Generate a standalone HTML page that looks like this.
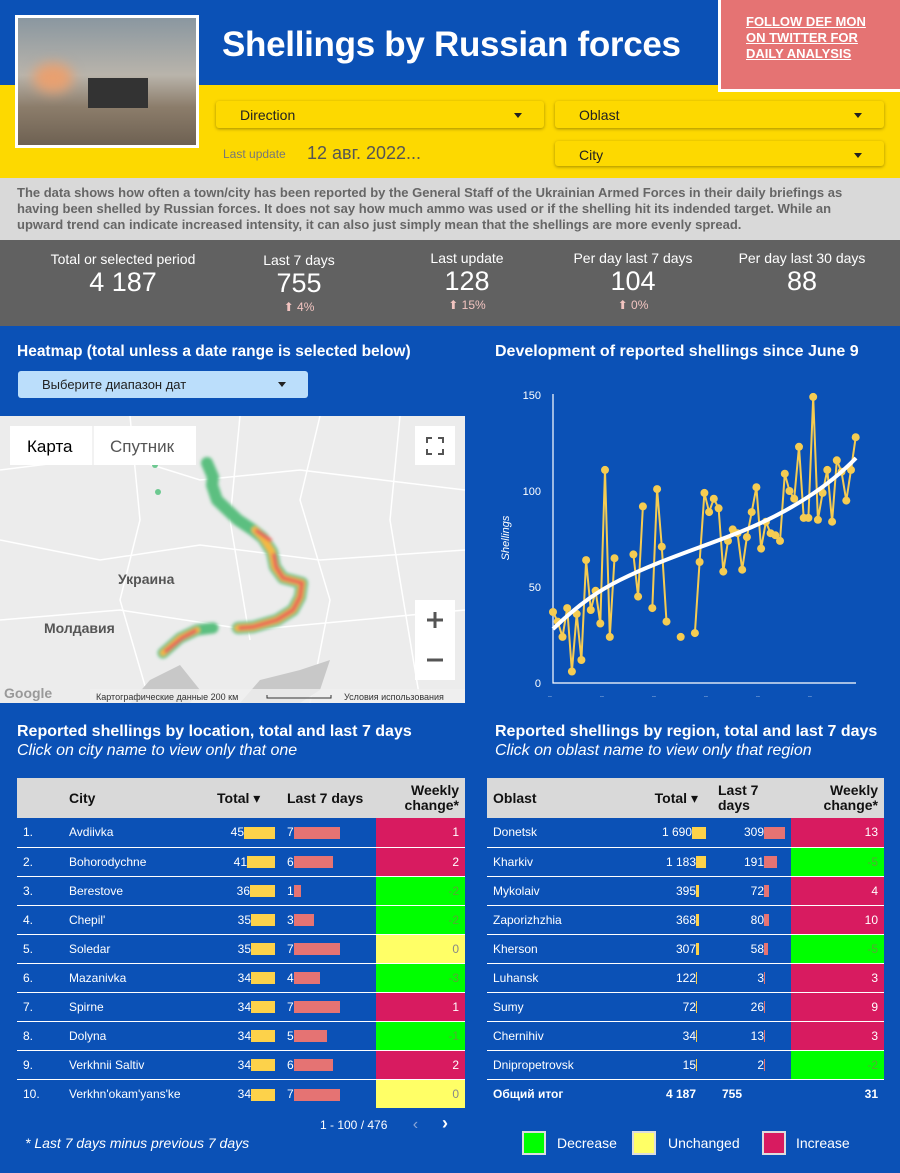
<!DOCTYPE html>
<html><head><meta charset="utf-8">
<style>
*{margin:0;padding:0;box-sizing:border-box}
body{width:900px;height:1173px;background:#0b51b6;font-family:"Liberation Sans","DejaVu Sans",sans-serif;position:relative;overflow:hidden}
.a{position:absolute}
.dd{position:absolute;background:#fdd900;box-shadow:0 1px 3px rgba(0,0,0,.35);border-radius:3px;font-size:14px;color:#222;padding:6px 0 0 24px}
.dd:after{content:"";position:absolute;right:22px;top:12px;border:4px solid transparent;border-top:5px solid #222}
.st{position:absolute;text-align:center;color:#fff;width:170px}
.st .l{font-size:14px}
.st .n{font-size:27px;line-height:30px}
.st .p{font-size:12px;color:#f2c4c0;margin-top:2px}
table{border-collapse:collapse;position:absolute;color:#fff;font-size:12px}
td,th{height:29px;padding:0 6px;border-bottom:1px solid #fff}
th{background:#d9d9d9;color:#111;font-size:14px;height:40px;border:none}
.r{text-align:right}
.bar{display:inline-block;height:12px;vertical-align:middle}
.y{background:#fdd24a}.p2{background:#e57373}
.inc{background:#d81b60;color:#fff}.dec{background:#00ff00;color:#55aa33}.unc{background:#ffff66;color:#888}
.ttl{position:absolute;color:#fff;font-weight:bold;font-size:16px}
.sub{position:absolute;color:#fff;font-style:italic;font-size:16px}
</style></head><body>
<div class="a" style="left:0;top:85px;width:900px;height:93px;background:#fdd900"></div>
<div class="a" style="left:15px;top:15px;width:184px;height:133px;background:#fff;padding:3px">
<div style="width:100%;height:100%;background:linear-gradient(180deg,#8a97a0 0%,#b9b4ab 45%,#8c7d6b 70%,#6e6152 100%);position:relative">
<div class="a" style="left:70px;top:60px;width:60px;height:30px;background:#333"></div>
<div class="a" style="left:15px;top:45px;width:40px;height:30px;background:#e8a070;border-radius:50%;filter:blur(6px)"></div>
</div></div>
<div class="a" style="left:222px;top:25px;font-size:35px;font-weight:bold;color:#fff;letter-spacing:-0.3px">Shellings by Russian forces</div>
<div class="a" style="left:718px;top:0;width:182px;height:92px;background:#e57373;border:3px solid #fff;border-top:none;border-right:none;padding:14px 0 0 25px;color:#fff;font-weight:bold;font-size:13px;line-height:16px;text-decoration:underline">FOLLOW DEF MON<br>ON TWITTER FOR<br>DAILY ANALYSIS</div>
<div class="dd" style="left:216px;top:101px;width:328px;height:27px">Direction</div>
<div class="dd" style="left:555px;top:101px;width:329px;height:27px">Oblast</div>
<div class="dd" style="left:555px;top:141px;width:329px;height:25px">City</div>
<div class="a" style="left:223px;top:147px;font-size:12px;color:#777">Last update</div>
<div class="a" style="left:307px;top:143px;font-size:18px;color:#555">12 авг. 2022...</div>
<div class="a" style="left:0;top:178px;width:900px;height:62px;background:#d9d9d9;padding:7px 40px 7px 17px;font-size:13px;line-height:16px;font-weight:bold;color:#666">The data shows how often a town/city has been reported by the General Staff of the Ukrainian Armed Forces in their daily briefings as having been shelled by Russian forces. It does not say how much ammo was used or if the shelling hit its indended target. While an upward trend can indicate increased intensity, it can also just simply mean that the shellings are more evenly spread.</div>
<div class="a" style="left:0;top:240px;width:900px;height:86px;background:#616161"></div>
<div class="st" style="left:38px;top:251px"><div class="l">Total or selected period</div><div class="n">4 187</div></div>
<div class="st" style="left:214px;top:252px"><div class="l">Last 7 days</div><div class="n">755</div><div class="p">⬆ 4%</div></div>
<div class="st" style="left:382px;top:250px"><div class="l">Last update</div><div class="n">128</div><div class="p">⬆ 15%</div></div>
<div class="st" style="left:548px;top:250px"><div class="l">Per day last 7 days</div><div class="n">104</div><div class="p">⬆ 0%</div></div>
<div class="st" style="left:717px;top:250px"><div class="l">Per day last 30 days</div><div class="n">88</div></div>

<div class="ttl" style="left:17px;top:343px;font-size:15.5px">Heatmap (total unless a date range is selected below)</div>
<div class="a" style="left:18px;top:371px;width:290px;height:27px;background:#bbdefb;border-radius:3px;font-size:13px;padding:6px 0 0 24px;color:#222">Выберите диапазон дат<span style="position:absolute;right:22px;top:11px;border:4px solid transparent;border-top:5px solid #222"></span></div>
<svg class="a" style="left:0;top:416px" width="465" height="287" viewBox="0 416 465 287">
<defs><filter id="bl"><feGaussianBlur stdDeviation="1.5"/></filter></defs>
<rect x="0" y="416" width="465" height="287" fill="#ececec"/>
<g stroke="#fff" stroke-width="1.5" fill="none">
<path d="M0,470 L120,455 L200,480 L300,470 L465,490"/><path d="M0,540 L100,560 L200,545 L320,560 L465,550"/>
<path d="M130,416 L140,520 L120,600 L150,703"/><path d="M320,416 L300,500 L330,600 L310,703"/>
<path d="M0,620 L120,610 L250,630 L465,610"/><path d="M240,416 L230,520 L250,640"/><path d="M400,416 L390,520 L420,700"/>
</g>
<path d="M130,703 L150,680 L180,665 L200,690 L190,703Z" fill="#c8c8c8"/>
<path d="M240,703 L260,680 L300,670 L330,660 L320,690 L300,703Z" fill="#c8c8c8"/>
<g fill="none" stroke-linecap="round" stroke-linejoin="round" filter="url(#bl)">
<path d="M207,463 L213,477 L212,485 L217,500 L238,520 L253,530 L263,538 L272,552 L275,567 L283,578 L302,583 L300,597 L293,610 L277,620 L253,627 L238,628" stroke="#5cbf80" stroke-width="12"/>
<path d="M213,628 L197,630 L180,638 L163,653" stroke="#5cbf80" stroke-width="11"/>
<path d="M255,530 L263,538 L272,552 L275,567 L283,578 L302,583 L300,597 L293,610 L277,620 L253,627 L238,628" stroke="#f5b942" stroke-width="7"/>
<path d="M197,630 L180,638 L163,653" stroke="#f5b942" stroke-width="6"/>
<path d="M257,531 L270,540 M274,555 L276,567 L283,578 L302,583 L300,597 L293,610 L277,620 L253,627 L240,628 M195,631 L182,638 L166,651" stroke="#e8625a" stroke-width="4"/>
</g>
<circle cx="158" cy="492" r="3" fill="#6cc890"/><circle cx="155" cy="465" r="3" fill="#6cc890"/>
<text x="118" y="584" font-size="14" font-weight="bold" fill="#555" font-family="Liberation Sans,sans-serif">Украина</text>
<text x="44" y="633" font-size="14" font-weight="bold" fill="#555" font-family="Liberation Sans,sans-serif">Молдавия</text>
<rect x="10" y="426" width="186" height="39" fill="#fff"/>
<text x="27" y="452" font-size="17" fill="#000" font-family="Liberation Sans,sans-serif">Карта</text>
<line x1="93" y1="426" x2="93" y2="465" stroke="#e5e5e5"/>
<text x="110" y="452" font-size="17" fill="#555" font-family="Liberation Sans,sans-serif">Спутник</text>
<rect x="415" y="426" width="40" height="39" fill="#fff"/>
<path d="M427,443 v-5 h5 M438,438 h5 v5 M443,449 v5 h-5 M432,454 h-5 v-5" stroke="#555" stroke-width="2" fill="none"/>
<rect x="415" y="600" width="40" height="80" fill="#fff"/>
<path d="M427,620 h16 M435,612 v16 M427,660 h16" stroke="#555" stroke-width="3"/>
<rect x="90" y="689" width="375" height="14" fill="rgba(240,240,240,.8)"/>
<text x="4" y="698" font-size="14" fill="#999" font-weight="bold" font-family="Liberation Sans,sans-serif">Google</text>
<text x="96" y="700" font-size="9" fill="#333" font-family="Liberation Sans,sans-serif">Картографические данные      200 км</text>
<path d="M267,695 v3 h64 v-3" stroke="#333" fill="none"/>
<text x="344" y="700" font-size="9" fill="#333" font-family="Liberation Sans,sans-serif">Условия использования</text>
</svg>

<div class="ttl" style="left:495px;top:343px">Development of reported shellings since June 9</div>
<svg class="a" style="left:490px;top:380px" width="410" height="330" viewBox="490 380 410 330">
<g font-family="Liberation Sans,sans-serif" font-size="11" fill="#fff" text-anchor="end">
<text x="541" y="399">150</text><text x="541" y="495">100</text><text x="541" y="591">50</text><text x="541" y="687">0</text>
</g>
<text transform="translate(509,538) rotate(-90)" font-size="11" font-style="italic" fill="#fff" text-anchor="middle" font-family="Liberation Sans,sans-serif">Shellings</text>
<path d="M553,394 V683 H856" stroke="#fff" fill="none" stroke-width="1.2"/>
<g fill="#fff" font-size="7"><text x="548" y="697">..</text><text x="600" y="697">..</text><text x="652" y="697">..</text><text x="704" y="697">..</text><text x="756" y="697">..</text><text x="808" y="697">..</text></g>
<g stroke="#f5cc52" stroke-width="2" fill="none">
<polyline points="553,612 557.7,621.6 562.5,636.9 567.2,608.1 571.9,671.5 576.7,613.9 581.4,660 586.1,560.1 590.8,610 595.6,590.8 600.3,623.5 605,469.9 609.8,636.9 614.5,558.2"/>
<polyline points="633.4,554.4 638.1,596.6 642.9,506.4"/>
<polyline points="652.3,608.1 657.1,489.1 661.8,546.7 666.5,621.6"/>
<polyline points="694.9,633.1 699.6,562 704.4,492.9 709.1,512.1 713.8,498.7 718.6,508.3 723.3,571.6 728,540.9 732.7,529.4 737.5,533.2 742.2,569.7 746.9,537.1 751.7,512.1 756.4,487.2 761.1,548.6 765.9,521.7 770.6,533.2 775.3,535.2 780,540.9 784.8,473.7 789.5,491 794.2,498.7 799,446.8 803.7,517.9 808.4,517.9 813.2,396.9 817.9,519.8 822.6,492.9 827.3,469.9 832.1,521.7 836.8,460.3 841.5,471.8 846.3,500.6 851,469.9 855.7,437.2"/>
</g>
<g fill="#f5cc52">
<circle cx="553" cy="612" r="4"/><circle cx="557.7" cy="621.6" r="4"/><circle cx="562.5" cy="636.9" r="4"/><circle cx="567.2" cy="608.1" r="4"/><circle cx="571.9" cy="671.5" r="4"/><circle cx="576.7" cy="613.9" r="4"/><circle cx="581.4" cy="660" r="4"/><circle cx="586.1" cy="560.1" r="4"/><circle cx="590.8" cy="610" r="4"/><circle cx="595.6" cy="590.8" r="4"/><circle cx="600.3" cy="623.5" r="4"/><circle cx="605" cy="469.9" r="4"/><circle cx="609.8" cy="636.9" r="4"/><circle cx="614.5" cy="558.2" r="4"/>
<circle cx="633.4" cy="554.4" r="4"/><circle cx="638.1" cy="596.6" r="4"/><circle cx="642.9" cy="506.4" r="4"/>
<circle cx="652.3" cy="608.1" r="4"/><circle cx="657.1" cy="489.1" r="4"/><circle cx="661.8" cy="546.7" r="4"/><circle cx="666.5" cy="621.6" r="4"/>
<circle cx="680.7" cy="636.9" r="4"/>
<circle cx="694.9" cy="633.1" r="4"/><circle cx="699.6" cy="562" r="4"/><circle cx="704.4" cy="492.9" r="4"/><circle cx="709.1" cy="512.1" r="4"/><circle cx="713.8" cy="498.7" r="4"/><circle cx="718.6" cy="508.3" r="4"/><circle cx="723.3" cy="571.6" r="4"/><circle cx="728" cy="540.9" r="4"/><circle cx="732.7" cy="529.4" r="4"/><circle cx="737.5" cy="533.2" r="4"/><circle cx="742.2" cy="569.7" r="4"/><circle cx="746.9" cy="537.1" r="4"/><circle cx="751.7" cy="512.1" r="4"/><circle cx="756.4" cy="487.2" r="4"/><circle cx="761.1" cy="548.6" r="4"/><circle cx="765.9" cy="521.7" r="4"/><circle cx="770.6" cy="533.2" r="4"/><circle cx="775.3" cy="535.2" r="4"/><circle cx="780" cy="540.9" r="4"/><circle cx="784.8" cy="473.7" r="4"/><circle cx="789.5" cy="491" r="4"/><circle cx="794.2" cy="498.7" r="4"/><circle cx="799" cy="446.8" r="4"/><circle cx="803.7" cy="517.9" r="4"/><circle cx="808.4" cy="517.9" r="4"/><circle cx="813.2" cy="396.9" r="4"/><circle cx="817.9" cy="519.8" r="4"/><circle cx="822.6" cy="492.9" r="4"/><circle cx="827.3" cy="469.9" r="4"/><circle cx="832.1" cy="521.7" r="4"/><circle cx="836.8" cy="460.3" r="4"/><circle cx="841.5" cy="471.8" r="4"/><circle cx="846.3" cy="500.6" r="4"/><circle cx="851" cy="469.9" r="4"/><circle cx="855.7" cy="437.2" r="4"/>
</g>
<path d="M553,629 C580,603 600,590 620,580 C660,560 700,548 740,532 C790,512 830,485 856,458" stroke="#fff" stroke-width="4" fill="none"/>
</svg>

<div class="ttl" style="left:17px;top:723px">Reported shellings by location, total and last 7 days</div>
<div class="sub" style="left:17px;top:742px">Click on city name to view only that one</div>
<div class="ttl" style="left:495px;top:723px">Reported shellings by region, total and last 7 days</div>
<div class="sub" style="left:495px;top:742px">Click on oblast name to view only that region</div>

<table style="left:17px;top:778px;width:448px">
<tr><th style="width:46px"></th><th style="text-align:left;width:148px">City</th><th style="text-align:left;width:70px">Total ▾</th><th style="text-align:left;width:95px">Last 7 days</th><th class="r" style="width:89px;line-height:15px">Weekly<br>change*</th></tr>
<tr><td>1.</td><td>Avdiivka</td><td class="r">45<span class="bar y" style="width:31px"></span></td><td>7<span class="bar p2" style="width:46px"></span></td><td class="r inc">1</td></tr>
<tr><td>2.</td><td>Bohorodychne</td><td class="r">41<span class="bar y" style="width:28px"></span></td><td>6<span class="bar p2" style="width:39px"></span></td><td class="r inc">2</td></tr>
<tr><td>3.</td><td>Berestove</td><td class="r">36<span class="bar y" style="width:25px"></span></td><td>1<span class="bar p2" style="width:7px"></span></td><td class="r dec">-2</td></tr>
<tr><td>4.</td><td>Chepil'</td><td class="r">35<span class="bar y" style="width:24px"></span></td><td>3<span class="bar p2" style="width:20px"></span></td><td class="r dec">-2</td></tr>
<tr><td>5.</td><td>Soledar</td><td class="r">35<span class="bar y" style="width:24px"></span></td><td>7<span class="bar p2" style="width:46px"></span></td><td class="r unc">0</td></tr>
<tr><td>6.</td><td>Mazanivka</td><td class="r">34<span class="bar y" style="width:24px"></span></td><td>4<span class="bar p2" style="width:26px"></span></td><td class="r dec">-3</td></tr>
<tr><td>7.</td><td>Spirne</td><td class="r">34<span class="bar y" style="width:24px"></span></td><td>7<span class="bar p2" style="width:46px"></span></td><td class="r inc">1</td></tr>
<tr><td>8.</td><td>Dolyna</td><td class="r">34<span class="bar y" style="width:24px"></span></td><td>5<span class="bar p2" style="width:33px"></span></td><td class="r dec">-1</td></tr>
<tr><td>9.</td><td>Verkhnii Saltiv</td><td class="r">34<span class="bar y" style="width:24px"></span></td><td>6<span class="bar p2" style="width:39px"></span></td><td class="r inc">2</td></tr>
<tr><td style="border:none">10.</td><td style="border:none">Verkhn'okam'yans'ke</td><td class="r" style="border:none">34<span class="bar y" style="width:24px"></span></td><td style="border:none">7<span class="bar p2" style="width:46px"></span></td><td class="r unc" style="border:none">0</td></tr>
</table>

<table style="left:487px;top:778px;width:397px">
<tr><th style="text-align:left;width:135px">Oblast</th><th style="text-align:right;width:90px;padding-right:14px">Total ▾</th><th style="text-align:left;width:79px;line-height:15px">Last 7<br>days</th><th class="r" style="width:93px;line-height:15px">Weekly<br>change*</th></tr>
<tr><td>Donetsk</td><td class="r">1 690<span class="bar y" style="width:14px"></span></td><td class="r">309<span class="bar p2" style="width:21px"></span></td><td class="r inc">13</td></tr>
<tr><td>Kharkiv</td><td class="r">1 183<span class="bar y" style="width:10px"></span></td><td class="r">191<span class="bar p2" style="width:13px;margin-right:8px"></span></td><td class="r dec">-5</td></tr>
<tr><td>Mykolaiv</td><td class="r">395<span class="bar y" style="width:3px;margin-right:7px"></span></td><td class="r">72<span class="bar p2" style="width:5px;margin-right:16px"></span></td><td class="r inc">4</td></tr>
<tr><td>Zaporizhzhia</td><td class="r">368<span class="bar y" style="width:3px;margin-right:7px"></span></td><td class="r">80<span class="bar p2" style="width:5px;margin-right:16px"></span></td><td class="r inc">10</td></tr>
<tr><td>Kherson</td><td class="r">307<span class="bar y" style="width:3px;margin-right:7px"></span></td><td class="r">58<span class="bar p2" style="width:4px;margin-right:17px"></span></td><td class="r dec">-5</td></tr>
<tr><td>Luhansk</td><td class="r">122<span class="bar y" style="width:1px;margin-right:9px"></span></td><td class="r">3<span class="bar p2" style="width:1px;margin-right:20px"></span></td><td class="r inc">3</td></tr>
<tr><td>Sumy</td><td class="r">72<span class="bar y" style="width:1px;margin-right:9px"></span></td><td class="r">26<span class="bar p2" style="width:1px;margin-right:20px"></span></td><td class="r inc">9</td></tr>
<tr><td>Chernihiv</td><td class="r">34<span class="bar y" style="width:1px;margin-right:9px"></span></td><td class="r">13<span class="bar p2" style="width:1px;margin-right:20px"></span></td><td class="r inc">3</td></tr>
<tr><td>Dnipropetrovsk</td><td class="r">15<span class="bar y" style="width:1px;margin-right:9px"></span></td><td class="r">2<span class="bar p2" style="width:1px;margin-right:20px"></span></td><td class="r dec">-2</td></tr>
<tr style="font-weight:bold"><td style="border:none">Общий итог</td><td class="r" style="border:none;padding-right:16px">4 187</td><td style="border:none;padding-left:10px">755</td><td class="r" style="border:none">31</td></tr>
</table>

<div class="a" style="left:320px;top:1113px;font-size:12px;color:#fff">1 - 100 / 476 <span style="margin-left:22px;color:#8aa6d8;font-size:16px">‹</span><span style="margin-left:24px;font-size:18px;font-weight:bold">›</span></div>
<div class="a" style="left:25px;top:1135px;font-size:14px;font-style:italic;color:#fff">* Last 7 days minus previous 7 days</div>
<div class="a" style="left:522px;top:1131px;width:24px;height:24px;background:#00ff00;border:2px solid #ddd"></div>
<div class="a" style="left:557px;top:1135px;font-size:14px;color:#fff">Decrease</div>
<div class="a" style="left:632px;top:1131px;width:24px;height:24px;background:#ffff66;border:2px solid #ddd"></div>
<div class="a" style="left:668px;top:1135px;font-size:14px;color:#fff">Unchanged</div>
<div class="a" style="left:762px;top:1131px;width:24px;height:24px;background:#d81b60;border:2px solid #ddd"></div>
<div class="a" style="left:796px;top:1135px;font-size:14px;color:#fff">Increase</div>
</body></html>
